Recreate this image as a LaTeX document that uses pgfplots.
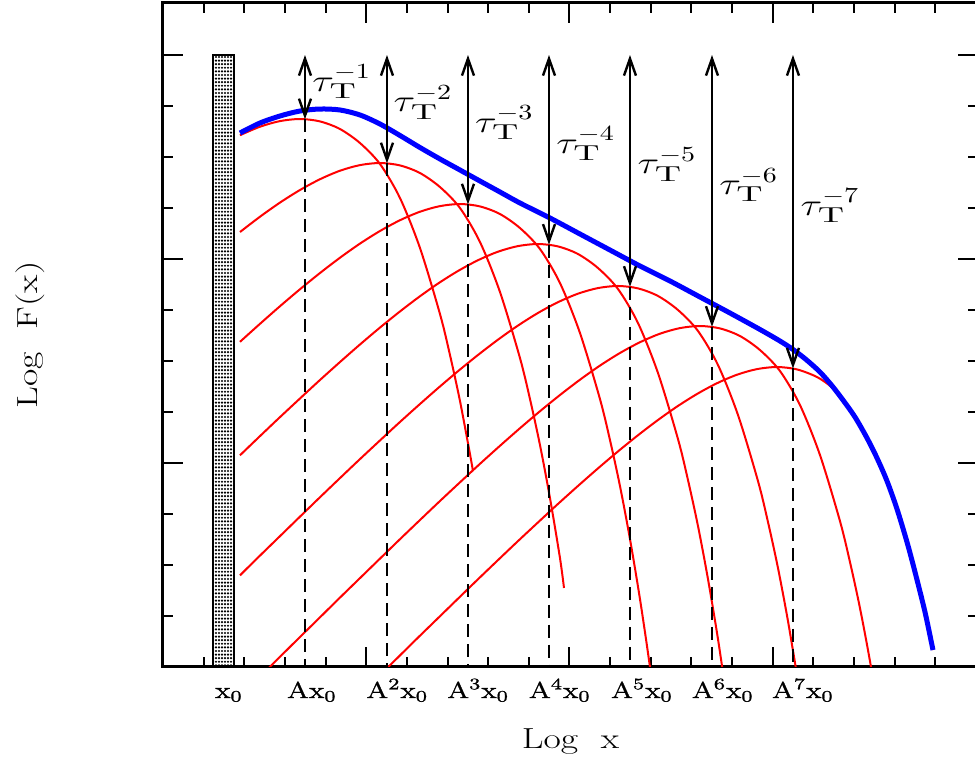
\documentclass[border=0pt]{standalone}
\usepackage{graphicx}
\usepackage{fontspec}
\setmainfont{Latin Modern Roman}[FakeStretch=1.3]
\usepackage{pgfplots}
\pgfplotsset{compat=1.18}
\usetikzlibrary{arrows.meta,patterns}
\pgfdeclarepatternformonly{finedots}{\pgfqpoint{-1pt}{-1pt}}{\pgfqpoint{1pt}{1pt}}{\pgfqpoint{1.5pt}{1.8pt}}{\pgfpathcircle{\pgfqpoint{0pt}{0pt}}{0.6pt}\pgfusepath{fill}}
\definecolor{cred}{RGB}{255,0,0}
\definecolor{cblue}{RGB}{0,0,255}
\tikzset{arr/.style={black, line width=1.25pt, {Straight Barb[length=8.5pt,width=6pt,line width=1.2pt]}-{Straight Barb[length=8.5pt,width=6pt,line width=1.2pt]}},
  dsh/.style={black, line width=1pt, dash pattern=on 6.5pt off 3.5pt},
  rc/.style={cred, line width=1pt, smooth, tension=0.5},
  tl/.style={inner sep=0}}
\newcommand{\tlab}[1]{\scalebox{1.4}[1.08]{\Large$\tau_{\mathrm{T}}^{-#1}$}}
\begin{document}
\begin{tikzpicture}
\begin{axis}[name=ax, scale only axis, width=407.5pt, height=332pt,
 xmin=0, xmax=20.05, ymin=0, ymax=13.02,
 xtick={0,5,10,15,20}, minor xtick={1,2,3,4,6,7,8,9,11,12,13,14,16,17,18,19},
 ytick={0,4,8,12}, minor ytick={1,2,3,5,6,7,9,10,11},
 xticklabels={}, yticklabels={},
 extra x ticks={1.62,3.66,5.76,7.75,9.76,11.78,13.77,15.74},
 extra x tick labels={x\textsubscript{0},Ax\textsubscript{0},A\textsuperscript{2}x\textsubscript{0},A\textsuperscript{3}x\textsubscript{0},A\textsuperscript{4}x\textsubscript{0},A\textsuperscript{5}x\textsubscript{0},A\textsuperscript{6}x\textsubscript{0},A\textsuperscript{7}x\textsubscript{0}},
 extra x tick style={major tick length=0pt},
 tick align=inside, xtick pos=both, ytick pos=both,
 major tick length=10pt, minor tick length=5pt,
 every tick/.style={black, line width=1pt},
 axis line style={line width=1.5pt},
 xticklabel style={anchor=base, yshift=-15.5pt, font=\fontsize{11.5}{13}\selectfont\addfontfeature{FakeBold=1.2}},
 xlabel={Log~~x}, ylabel={Log~~F(x)},
 xlabel style={at={(axis description cs:0.5,-0.122)}, anchor=base, font=\fontsize{14.5}{17}\selectfont},
 ylabel style={at={(axis description cs:-0.1632,0.5)}, anchor=center, font=\fontsize{14.5}{17}\selectfont},
]
% x0 bar
\addplot[draw=black, line width=1pt, pattern=finedots] coordinates {(1.230,0) (1.230,12) (1.747,12) (1.747,0)} -- cycle;
% red curves
\addplot[rc] coordinates {(1.894,10.427) (2.386,10.594) (2.878,10.704) (3.370,10.745) (3.862,10.698) (4.354,10.549) (4.846,10.274) (5.338,9.863) (5.830,9.196) (6.322,8.216) (6.814,6.921) (7.060,6.118) (7.306,5.216) (7.552,4.176) (7.626,3.84)};
\addplot[rc] coordinates {(1.894,8.529) (2.386,8.829) (2.878,9.106) (3.370,9.353) (3.862,9.564) (4.354,9.731) (4.846,9.841) (5.338,9.882) (5.830,9.835) (6.322,9.686) (6.814,9.411) (7.306,9.000) (7.798,8.333) (8.290,7.353) (8.782,6.058) (9.028,5.255) (9.274,4.353) (9.520,3.313) (9.766,2.137) (9.865,1.55)};
\addplot[rc] coordinates {(1.894,6.376) (2.386,6.729) (2.878,7.074) (3.370,7.407) (3.862,7.725) (4.354,8.025) (4.846,8.302) (5.338,8.549) (5.830,8.760) (6.322,8.927) (6.814,9.037) (7.306,9.078) (7.798,9.031) (8.290,8.882) (8.782,8.607) (9.274,8.196) (9.766,7.529) (10.258,6.549) (10.750,5.254) (10.996,4.451) (11.242,3.549) (11.488,2.509) (11.734,1.333) (11.980,0.000) (12.226,-1.510)};
\addplot[rc] coordinates {(1.894,4.151) (2.337,4.490) (2.829,4.863) (3.321,5.229) (3.813,5.592) (4.305,5.945) (4.797,6.290) (5.289,6.623) (5.781,6.941) (6.273,7.241) (6.765,7.518) (7.257,7.765) (7.749,7.976) (8.241,8.143) (8.733,8.253) (9.225,8.294) (9.717,8.247) (10.209,8.098) (10.701,7.823) (11.193,7.412) (11.685,6.745) (12.177,5.765) (12.669,4.470) (12.915,3.667) (13.161,2.765) (13.407,1.725) (13.653,0.549) (13.899,-0.784)};
\addplot[rc] coordinates {(1.894,1.797) (2.337,2.146) (2.829,2.528) (3.321,2.910) (3.813,3.291) (4.305,3.667) (4.797,4.040) (5.289,4.406) (5.781,4.769) (6.273,5.122) (6.765,5.467) (7.257,5.800) (7.749,6.118) (8.241,6.418) (8.733,6.695) (9.225,6.942) (9.717,7.153) (10.209,7.320) (10.701,7.430) (11.193,7.471) (11.685,7.424) (12.177,7.275) (12.669,7.000) (13.161,6.589) (13.653,5.922) (14.145,4.942) (14.637,3.647) (14.883,2.844) (15.129,1.942) (15.375,0.902) (15.621,-0.274)};
\addplot[rc] coordinates {(2.386,-0.190) (2.878,0.200) (3.370,0.588) (3.862,0.974) (4.354,1.361) (4.846,1.743) (5.338,2.125) (5.830,2.506) (6.322,2.882) (6.814,3.255) (7.306,3.621) (7.798,3.984) (8.290,4.337) (8.782,4.682) (9.274,5.015) (9.766,5.333) (10.258,5.633) (10.750,5.910) (11.242,6.157) (11.734,6.368) (12.226,6.535) (12.718,6.645) (13.210,6.686) (13.702,6.639) (14.194,6.490) (14.686,6.215) (15.178,5.804) (15.670,5.137) (16.162,4.157) (16.654,2.862) (16.900,2.059) (17.146,1.157) (17.392,0.117) (17.638,-1.059)};
\addplot[rc] coordinates {(5.265,-0.216) (5.757,0.170) (6.249,0.557) (6.741,0.939) (7.233,1.321) (7.725,1.702) (8.217,2.078) (8.709,2.451) (9.201,2.817) (9.693,3.180) (10.185,3.533) (10.677,3.878) (11.169,4.211) (11.661,4.529) (12.153,4.829) (12.645,5.106) (13.137,5.353) (13.629,5.564) (14.121,5.731) (14.613,5.841) (15.105,5.882) (15.597,5.835) (16.089,5.686) (16.458,5.48) (16.728,5.215) (17.023,4.89) (17.319,4.48) (17.565,4.09) (17.811,3.64) (18.057,3.09) (18.303,2.445) (18.500,1.86) (18.746,1.075) (18.942,0.333)};
% dashed lines
\addplot[dsh] coordinates {(3.493,10.74) (3.493,0)};
\addplot[dsh] coordinates {(5.510,9.876) (5.510,0)};
\addplot[dsh] coordinates {(7.503,9.07) (7.503,0)};
\addplot[dsh] coordinates {(9.496,8.28) (9.496,0)};
\addplot[dsh] coordinates {(11.488,7.455) (11.488,0)};
\addplot[dsh] coordinates {(13.506,6.67) (13.506,0)};
\addplot[dsh] coordinates {(15.498,5.853) (15.498,0)};
% blue envelope
\addplot[cblue, line width=2.5pt, smooth, tension=0.5] coordinates {(1.894,10.471) (2.386,10.667) (2.878,10.804) (3.370,10.902) (3.862,10.941) (4.354,10.922) (4.846,10.824) (5.338,10.647) (5.830,10.422) (6.322,10.186) (6.814,9.961) (7.306,9.745) (7.798,9.529) (8.290,9.314) (8.782,9.098) (9.520,8.804) (10.258,8.490) (10.996,8.176) (11.734,7.863) (12.472,7.569) (13.210,7.255) (13.948,6.941) (14.686,6.618) (15.178,6.392) (15.498,6.226) (15.818,6.030) (16.162,5.784) (16.458,5.515) (16.728,5.235) (17.023,4.902) (17.319,4.490) (17.565,4.098) (17.811,3.647) (18.057,3.098) (18.303,2.45) (18.500,1.863) (18.746,1.078) (18.942,0.333)};
% arrows
\addplot[arr] coordinates {(3.493,12) (3.493,10.74)};
\addplot[arr] coordinates {(5.510,12) (5.510,9.876)};
\addplot[arr] coordinates {(7.503,12) (7.503,9.07)};
\addplot[arr] coordinates {(9.496,12) (9.496,8.28)};
\addplot[arr] coordinates {(11.488,12) (11.488,7.455)};
\addplot[arr] coordinates {(13.506,12) (13.506,6.67)};
\addplot[arr] coordinates {(15.498,12) (15.498,5.853)};
% labels
\node[tl] at (axis cs:4.40,11.48) {\tlab{1}};
\node[tl] at (axis cs:6.40,11.075) {\tlab{2}};
\node[tl] at (axis cs:8.40,10.669) {\tlab{3}};
\node[tl] at (axis cs:10.40,10.263) {\tlab{4}};
\node[tl] at (axis cs:12.40,9.857) {\tlab{5}};
\node[tl] at (axis cs:14.41,9.451) {\tlab{6}};
\node[tl] at (axis cs:16.41,9.045) {\tlab{7}};
\end{axis}
\pgfresetboundingbox
\path[use as bounding box] ([xshift=-81.5pt,yshift=-46pt]ax.south west) rectangle ([xshift=406pt,yshift=333.5pt]ax.south west);
\end{tikzpicture}
\end{document}
